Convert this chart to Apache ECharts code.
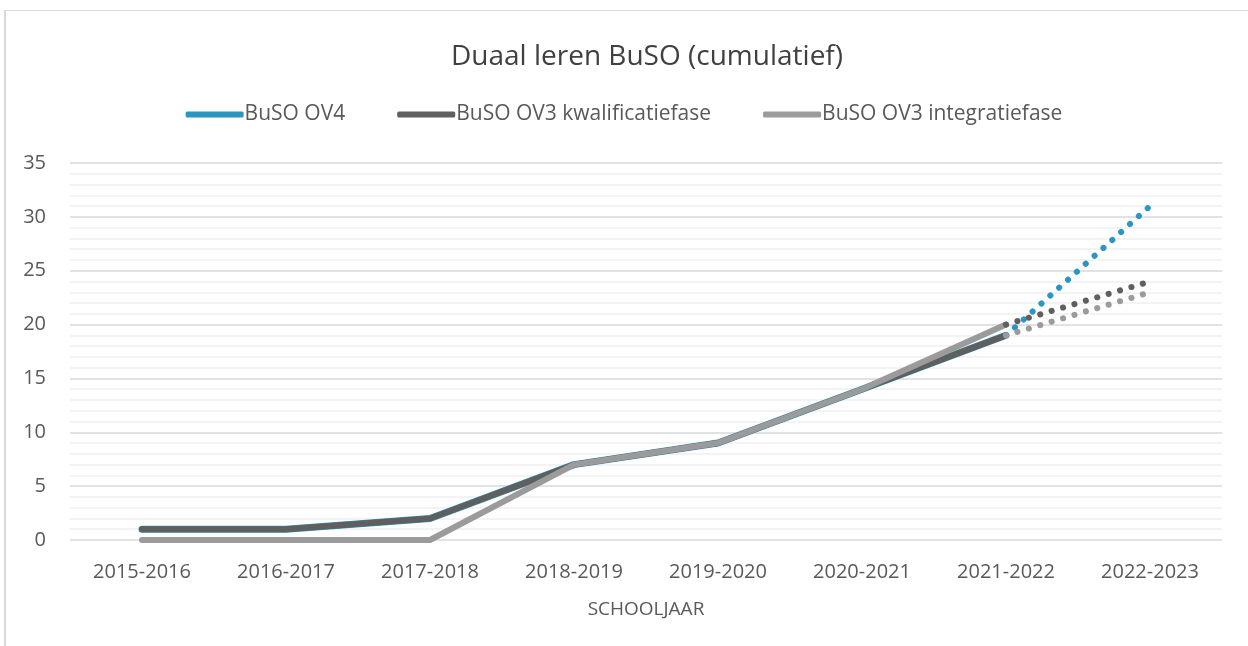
<!DOCTYPE html>
<html>
<head>
<meta charset="utf-8">
<script src="https://cdn.jsdelivr.net/npm/echarts@6/dist/echarts.min.js"></script>
<style>
  html, body { margin: 0; padding: 0; background: #fff; }
  #frame {
    position: absolute; left: 4px; top: 10px; width: 1244px; height: 636px;
    border-left: 2px solid #d9d9d9; border-top: 1px solid #d9d9d9; box-sizing: border-box;
  }
  #chart { position: absolute; left: 0; top: 0; width: 1248px; height: 646px; }
</style>
</head>
<body>
<div id="frame"></div>
<div id="chart"></div>
<script>
// schooljaren op de x-as
const years = ['2015-2016', '2016-2017', '2017-2018', '2018-2019', '2019-2020', '2020-2021', '2021-2022', '2022-2023']

// gerealiseerde cijfers (volle lijn)
const ov4 = [1, 1, 2, 7, 9, 14, 19, null]
const ov3Kwal = [1, 1, 2, 7, 9, 14, 19, null]
const ov3Integ = [0, 0, 0, 7, 9, 14, 20, null]

// prognose (stippellijn)
const ov4Prog = [null, null, null, null, null, null, 19, 31]
const ov3KwalProg = [null, null, null, null, null, null, 20, 24]
const ov3IntegProg = [null, null, null, null, null, null, 19, 23]

const colors = { ov4: '#2b96c4', kwal: '#5f5f5f', integ: '#9b9b9b' }
const font = '"Open Sans", "Noto Sans", sans-serif'

const solid = (name, data, color, width) => ({
  name,
  type: 'line',
  data,
  symbol: 'none',
  smooth: false,
  lineStyle: { color, width, cap: 'round', join: 'round' },
  itemStyle: { color },
  emphasis: { disabled: true }
})

const dotted = (data, color, z) => ({
  type: 'line',
  data,
  symbol: 'none',
  z,
  lineStyle: { color, width: 6, type: [0.1, 11.8], cap: 'round' },
  emphasis: { disabled: true }
})

const chart = echarts.init(document.getElementById('chart'))
chart.setOption({
  animation: false,
  title: {
    text: 'Duaal leren BuSO (cumulatief)',
    left: 446,
    top: 38,
    textStyle: { fontFamily: font, fontSize: 28, fontWeight: 'normal', color: '#404040' }
  },
  legend: {
    top: 99,
    left: 'center',
    itemWidth: 58,
    itemHeight: 6,
    itemGap: 52,
    icon: 'roundRect',
    textStyle: { fontFamily: font, fontSize: 21, color: '#595959', padding: [0, 0, 0, -4] },
    data: ['BuSO OV4', 'BuSO OV3 kwalificatiefase', 'BuSO OV3 integratiefase']
  },
  grid: { left: 70, right: 26, top: 163, bottom: 106 },
  xAxis: {
    type: 'category',
    data: years,
    boundaryGap: true,
    name: 'SCHOOLJAAR',
    nameLocation: 'middle',
    nameGap: 60,
    nameTextStyle: { fontFamily: font, fontSize: 19, color: '#595959' },
    axisLine: { show: false },
    axisTick: { show: false },
    axisLabel: { fontFamily: font, fontSize: 20, color: '#595959', margin: 22 }
  },
  yAxis: {
    type: 'value',
    min: 0,
    max: 35,
    interval: 5,
    axisLine: { show: false },
    axisTick: { show: false },
    axisLabel: { fontFamily: font, fontSize: 20, color: '#595959', margin: 24 },
    splitLine: { lineStyle: { color: '#d9d9d9', width: 1.5 } },
    minorTick: { show: false, splitNumber: 5 },
    minorSplitLine: { show: true, lineStyle: { color: '#f0f0f0', width: 1.5 } }
  },
  series: [
    solid('BuSO OV4', ov4, colors.ov4, 7),
    solid('BuSO OV3 kwalificatiefase', ov3Kwal, colors.kwal, 6),
    solid('BuSO OV3 integratiefase', ov3Integ, colors.integ, 6),
    dotted(ov4Prog, colors.ov4, 3),
    dotted(ov3KwalProg, colors.kwal, 3),
    dotted(ov3IntegProg, colors.integ, 3)
  ]
})
</script>
</body>
</html>
